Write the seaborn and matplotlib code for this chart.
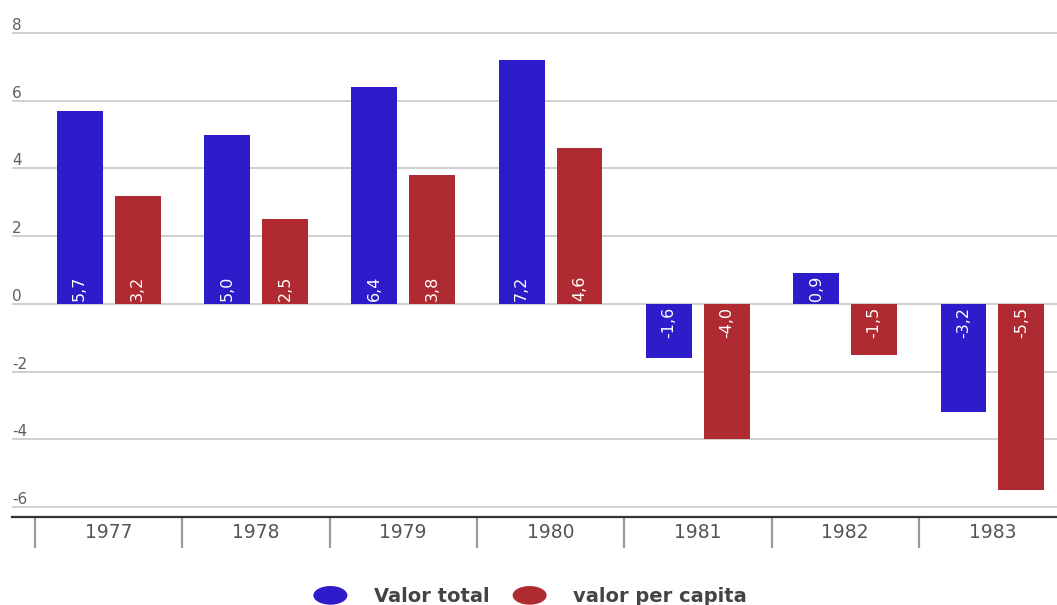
import matplotlib
matplotlib.use("Agg")
import matplotlib.pyplot as plt
import matplotlib.patches as mpatches
from matplotlib.legend_handler import HandlerPatch
import pandas as pd
import seaborn as sns

# Annual variation (%), total and per capita
years = ["1977", "1978", "1979", "1980", "1981", "1982", "1983"]
valor_total = [5.7, 5.0, 6.4, 7.2, -1.6, 0.9, -3.2]
valor_per_capita = [3.2, 2.5, 3.8, 4.6, -4.0, -1.5, -5.5]
series_names = ["Valor total", "valor per capita"]
y_ticks = [-6, -4, -2, 0, 2, 4, 6, 8]

colors = ["#2e1bc9", "#b02b31"]

df = pd.DataFrame({
    "year": years * 2,
    "value": valor_total + valor_per_capita,
    "series": [series_names[0]] * len(years) + [series_names[1]] * len(years),
})

sns.set_theme(style="white")
plt.rcParams["font.family"] = ["DejaVu Sans"]

fig = plt.figure(figsize=(10.57, 6.05), dpi=100)
ax = fig.add_axes([12 / 1057, 88 / 605, 1 - 12 / 1057, (605 - 88 - 20) / 605])

sns.barplot(data=df, x="year", y="value", hue="series", palette=colors,
            width=0.786, gap=0.207, legend=False, ax=ax, saturation=1,
            linewidth=0, edgecolor="none")

ax.set_xlim(-0.656, 6.438)
ax.set_ylim(-6.295, 8.384)
ax.set_xlabel("")
ax.set_ylabel("")

# horizontal gridlines with labels sitting above each line
ax.set_yticks(y_ticks)
ax.set_yticklabels([])
ax.tick_params(axis="y", length=0)
ax.grid(axis="y", color="#cccccc", linewidth=1.3)
ax.set_axisbelow(True)
for v in y_ticks:
    ax.text(0.0, v, str(v), transform=ax.get_yaxis_transform(),
            ha="left", va="bottom", fontsize=11, color="#5e5e5e")

# category axis
for side in ["left", "right", "top"]:
    ax.spines[side].set_visible(False)
ax.spines["bottom"].set_color("#333333")
ax.spines["bottom"].set_linewidth(1.6)
ax.tick_params(axis="x", length=0, pad=4, labelsize=13.5, labelcolor="#555555")

sep_tr = ax.get_xaxis_transform()
for i in range(len(years) + 1):
    ax.plot([i - 0.5, i - 0.5], [0, -31 / 497], transform=sep_tr,
            color="#9a9a9a", linewidth=1.6, clip_on=False, solid_capstyle="butt")

# value labels inside the bars, rotated
for container, values in zip(ax.containers, [valor_total, valor_per_capita]):
    for bar, v in zip(container, values):
        xc = bar.get_x() + bar.get_width() / 2
        label = f"{v:.1f}".replace(".", ",")
        if v >= 0:
            ax.annotate(label, (xc, 0), xytext=(0, 2), textcoords="offset points",
                        rotation=90, ha="center", va="bottom",
                        fontsize=11.5, color="white")
        else:
            ax.annotate(label, (xc, 0), xytext=(0, -2), textcoords="offset points",
                        rotation=90, ha="center", va="top",
                        fontsize=11.5, color="white")


class HandlerEllipse(HandlerPatch):
    def create_artists(self, legend, orig_handle, xdescent, ydescent,
                       width, height, fontsize, trans):
        center = (0.5 * width - xdescent, 0.5 * height - ydescent)
        p = mpatches.Ellipse(xy=center, width=width, height=height)
        self.update_prop(p, orig_handle, legend)
        p.set_transform(trans)
        return [p]


handles = [mpatches.Patch(facecolor=c, edgecolor="none") for c in colors]
fig.legend(handles, series_names, loc="center",
           bbox_to_anchor=(530 / 1057, 1 - 596 / 605), ncol=2, frameon=False,
           handlelength=1.75, handleheight=1.1, handletextpad=1.35,
           columnspacing=1.2, labelcolor="#444444",
           handler_map={mpatches.Patch: HandlerEllipse()},
           prop={"size": 14, "weight": "bold"})

fig.savefig("out.png", dpi=100)
